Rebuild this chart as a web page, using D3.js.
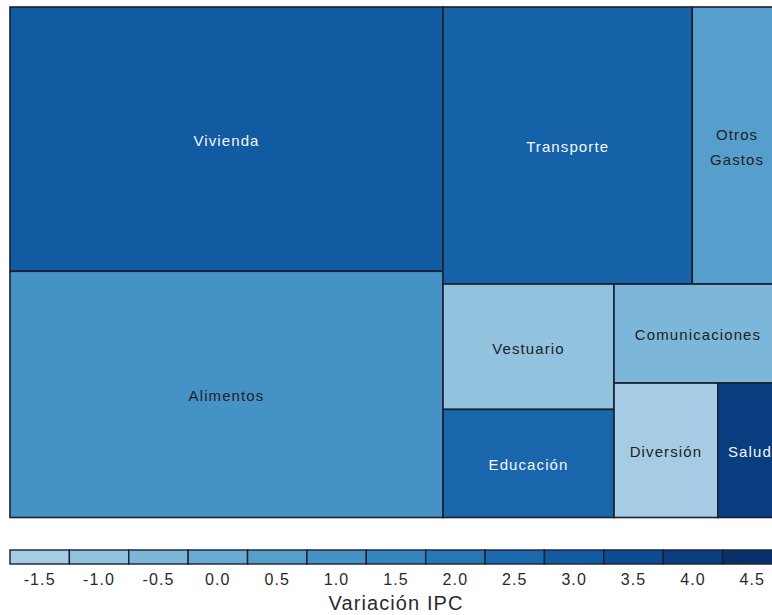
<!DOCTYPE html>
<html>
<head>
<meta charset="utf-8">
<script src="https://cdn.jsdelivr.net/npm/d3@7"></script>
<style>
  html, body { margin: 0; padding: 0; background: #ffffff; overflow: hidden; }
  svg { display: block; font-family: "Liberation Sans", Arial, sans-serif; }
</style>
</head>
<body>
<svg id="chart" width="772" height="615"></svg>
<script>
// Categories of the IPC basket (weights = tile size, variation = colour)
const categories = ["Vivienda", "Alimentos", "Transporte", "Otros Gastos", "Vestuario",
                    "Educación", "Comunicaciones", "Diversión", "Salud"];
const weights = [29.04, 27.05, 17.52, 6.31, 5.44, 4.69, 4.22, 3.54, 2.19];
const ipcVariation = [3.0, 1.0, 2.75, 0.5, -1.0, 2.6, -0.5, -1.5, 4.0];
const legendBreaks = [-1.5, -1.0, -0.5, 0.0, 0.5, 1.0, 1.5, 2.0, 2.5, 3.0, 3.5, 4.0, 4.5];
const legendTitle = "Variación IPC";

const svg = d3.select("#chart");
const plot = { x0: 10, y0: 7, x1: 782, y1: 517.5 };

const tScale = d3.scaleLinear().domain([-1.5, 4.5]).range([0.35, 1.0]).clamp(true);
const color = v => d3.interpolateBlues(tScale(v));

const rootData = { name: "IPC", children: categories.map((c, i) => ({ name: c, weight: weights[i], ipc: ipcVariation[i] })) };
const root = d3.hierarchy(rootData)
  .sum(d => d.weight || 0)
  .sort((a, b) => b.value - a.value);

d3.treemap()
  .tile(d3.treemapBinary)
  .size([plot.x1 - plot.x0, plot.y1 - plot.y0])
  .paddingInner(0)
  .round(false)(root);

const g = svg.append("g").attr("transform", `translate(${plot.x0},${plot.y0})`);

const leaves = g.selectAll("g.leaf").data(root.leaves()).join("g").attr("class", "leaf");

leaves.append("rect")
  .attr("x", d => d.x0)
  .attr("y", d => d.y0)
  .attr("width", d => d.x1 - d.x0)
  .attr("height", d => d.y1 - d.y0)
  .attr("fill", d => color(d.data.ipc))
  .attr("stroke", "#1c1f2e")
  .attr("stroke-width", 1.6);

leaves.each(function(d) {
  const words = d.data.name.split(" ");
  const cx = (d.x0 + d.x1) / 2;
  const cy = (d.y0 + d.y1) / 2 + 1.5;
  const lh = 25;
  const txt = d3.select(this).append("text")
    .attr("text-anchor", "middle")
    .attr("font-size", 15)
    .attr("letter-spacing", 1.1)
    .attr("fill", d.data.ipc > 1.5 ? "#f4f6fa" : "#222222");
  words.forEach((w, i) => {
    txt.append("tspan")
      .attr("x", cx)
      .attr("y", cy + (i - (words.length - 1) / 2) * lh)
      .attr("dy", "0.36em")
      .text(w);
  });
});

// Legend
const legend = { x0: 10, x1: 782, y: 550, h: 14 };
const lx = d3.scaleBand().domain(legendBreaks).range([legend.x0, legend.x1]).padding(0);
const lg = svg.append("g");
lg.selectAll("rect").data(legendBreaks).join("rect")
  .attr("x", d => lx(d))
  .attr("y", legend.y)
  .attr("width", lx.bandwidth())
  .attr("height", legend.h)
  .attr("fill", d => color(d))
  .attr("stroke", "#1c1f2e")
  .attr("stroke-width", 1.4);

const fmt = d3.formatLocale({ decimal: ".", thousands: ",", grouping: [3], currency: ["", ""], minus: "-" }).format(".1f");
lg.selectAll("text.tick").data(legendBreaks).join("text")
  .attr("class", "tick")
  .attr("x", d => lx(d) + lx.bandwidth() / 2)
  .attr("y", 585)
  .attr("text-anchor", "middle")
  .attr("font-size", 16)
  .attr("letter-spacing", 1.1)
  .attr("fill", "#2a2a2a")
  .text(d => fmt(d));

svg.append("text")
  .attr("x", (legend.x0 + legend.x1) / 2)
  .attr("y", 610)
  .attr("text-anchor", "middle")
  .attr("font-size", 20)
  .attr("letter-spacing", 1.1)
  .attr("fill", "#2a2a2a")
  .text(legendTitle);
</script>
</body>
</html>
